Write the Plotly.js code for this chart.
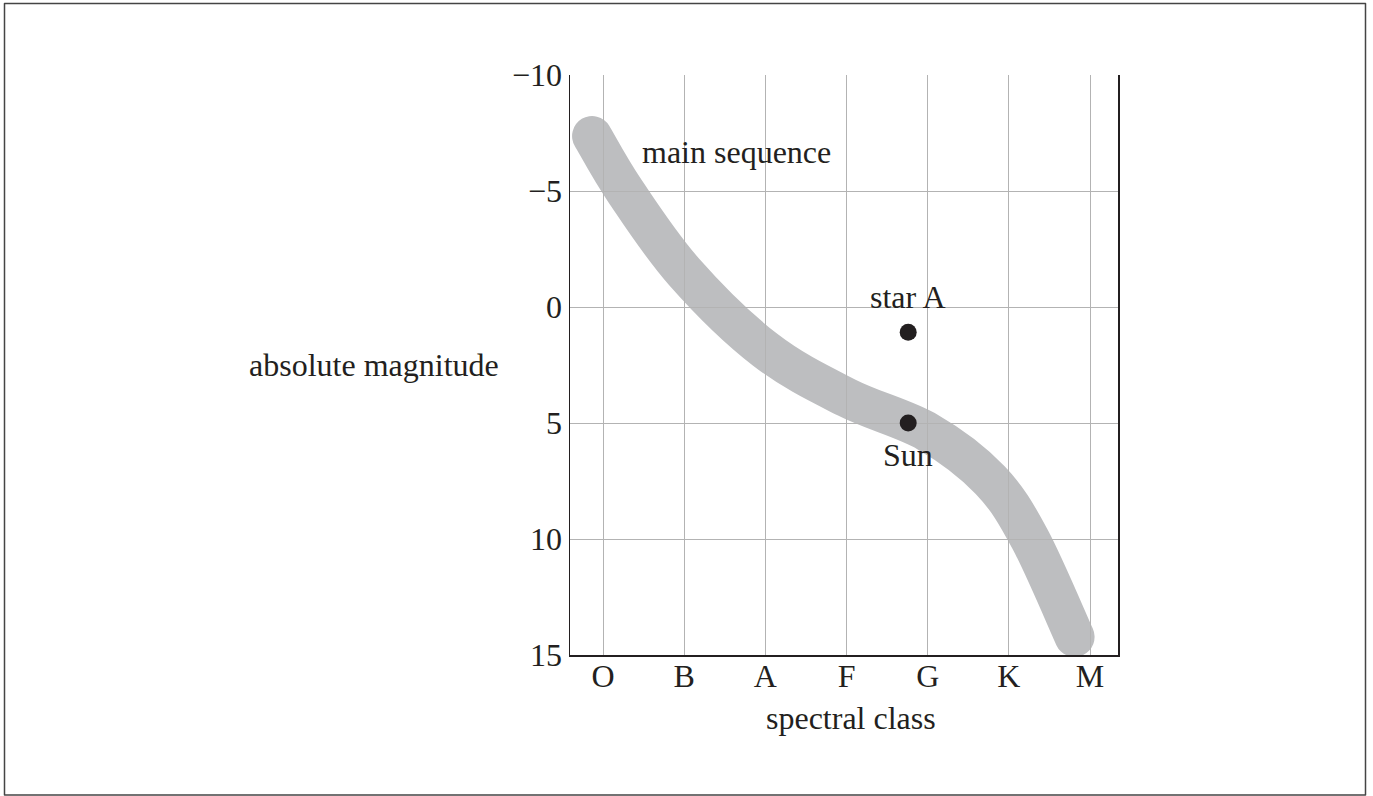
<!DOCTYPE html>
<html>
<head>
<meta charset="utf-8">
<script src="https://cdn.plot.ly/plotly-3.0.1.min.js"></script>
<style>
  html, body { margin: 0; padding: 0; background: #ffffff; }
  #chart { width: 1373px; height: 796px; }
</style>
</head>
<body>
<div id="chart"></div>
<script>
// ---- data ----
const spectralClasses = ['O', 'B', 'A', 'F', 'G', 'K', 'M'];
const classPositions = [0, 1, 2, 3, 4, 5, 6];
const magnitudeTicks = [-10, -5, 0, 5, 10, 15];
const magnitudeTickText = ['\u221210', '\u22125', '0', '5', '10', '15'];

// main-sequence band centre line (spectral class position, absolute magnitude)
const mainSeqClass = [-0.135, 0.27, 1.0, 2.0, 3.0, 4.0, 4.77, 5.26, 5.81];
const mainSeqMag   = [-7.37, -5.0, -1.51, 1.85, 3.9, 5.39, 7.46, 10.0, 14.22];

// stars
const starNames = ['star A', 'Sun'];
const starClass = [3.76, 3.76];
const starMag   = [1.09, 5.0];

// labels
const mainSeqLabel = {text: 'main sequence', x: 1.64, y: -6.66};
const starLabelMag = [-0.44, 6.40];

// ---- build smooth path (Catmull-Rom -> cubic Bezier) from the band points ----
function smoothPath(xs, ys) {
  const n = xs.length;
  const P = i => [xs[Math.max(0, Math.min(n - 1, i))], ys[Math.max(0, Math.min(n - 1, i))]];
  let d = 'M' + xs[0] + ',' + ys[0];
  for (let i = 0; i < n - 1; i++) {
    const p0 = P(i - 1), p1 = P(i), p2 = P(i + 1), p3 = P(i + 2);
    const c1 = [p1[0] + (p2[0] - p0[0]) / 6, p1[1] + (p2[1] - p0[1]) / 6];
    const c2 = [p2[0] - (p3[0] - p1[0]) / 6, p2[1] - (p3[1] - p1[1]) / 6];
    d += ' C' + c1[0] + ',' + c1[1] + ' ' + c2[0] + ',' + c2[1] + ' ' + p2[0] + ',' + p2[1];
  }
  return d;
}

const textColor = '#231f20';
const serif = 'Liberation Serif, Times New Roman, serif';

const traces = [
  {
    type: 'scatter',
    mode: 'markers',
    x: starClass,
    y: starMag,
    text: starNames,
    hoverinfo: 'text',
    marker: {size: 17, color: textColor},
    showlegend: false
  }
];

// plot area: x 570..1118, y 75..655
const W = 1373, H = 796;
const L = 570, R = 1118, T = 75, B = 655;
const pw = R - L, ph = B - T;
const px = v => (v - L) / pw;
const py = v => (B - v) / ph;

const annotations = [
  {text: mainSeqLabel.text, x: mainSeqLabel.x, y: mainSeqLabel.y, xref: 'x', yref: 'y',
   showarrow: false, xanchor: 'center', yanchor: 'middle'},
  {text: starNames[0], x: starClass[0], y: starLabelMag[0], xref: 'x', yref: 'y',
   showarrow: false, xanchor: 'center', yanchor: 'middle'},
  {text: starNames[1], x: starClass[1], y: starLabelMag[1], xref: 'x', yref: 'y',
   showarrow: false, xanchor: 'center', yanchor: 'middle'},
  {text: 'absolute magnitude', x: px(374), y: py(365), xref: 'paper', yref: 'paper',
   showarrow: false, xanchor: 'center', yanchor: 'middle'},
  {text: 'spectral class', x: px(851), y: py(718), xref: 'paper', yref: 'paper',
   showarrow: false, xanchor: 'center', yanchor: 'middle'}
].map(a => Object.assign(a, {font: {family: serif, size: 32, color: textColor}}));

const shapes = [
  {type: 'path', xref: 'x', yref: 'y', layer: 'below',
   path: smoothPath(mainSeqClass, mainSeqMag),
   line: {color: '#bdbec0', width: 40}, fillcolor: 'rgba(0,0,0,0)'},
  {type: 'rect', xref: 'paper', yref: 'paper', layer: 'above',
   x0: px(4.5), x1: px(1365.5), y0: py(795), y1: py(3.5),
   line: {color: '#444444', width: 1.5}, fillcolor: 'rgba(0,0,0,0)'}
];

const layout = {
  width: W, height: H,
  margin: {l: L, r: W - R, t: T, b: H - B, pad: 0},
  paper_bgcolor: '#ffffff',
  plot_bgcolor: '#ffffff',
  showlegend: false,
  font: {family: serif, size: 32, color: textColor},
  xaxis: {
    range: [-0.407, 6.345],
    tickvals: classPositions,
    ticktext: spectralClasses,
    showgrid: true, gridcolor: '#b3b3b3', gridwidth: 1,
    zeroline: false,
    showline: true, linecolor: textColor, linewidth: 1.5, mirror: false,
    ticks: '', ticklabelstandoff: -8,
    tickfont: {family: serif, size: 32, color: textColor}
  },
  yaxis: {
    range: [15, -10],
    tickvals: magnitudeTicks,
    ticktext: magnitudeTickText,
    showgrid: true, gridcolor: '#b3b3b3', gridwidth: 1,
    zeroline: false,
    showline: true, linecolor: textColor, linewidth: 1.5, mirror: true,
    ticks: '',
    tickfont: {family: serif, size: 32, color: textColor}
  },
  annotations: annotations,
  shapes: shapes
};

Plotly.newPlot('chart', traces, layout, {displayModeBar: false, staticPlot: true}).then(function () {
  document.querySelectorAll('.shapelayer path').forEach(function (p) {
    p.style.strokeLinecap = 'round';
    p.style.strokeLinejoin = 'round';
  });
});
</script>
</body>
</html>
